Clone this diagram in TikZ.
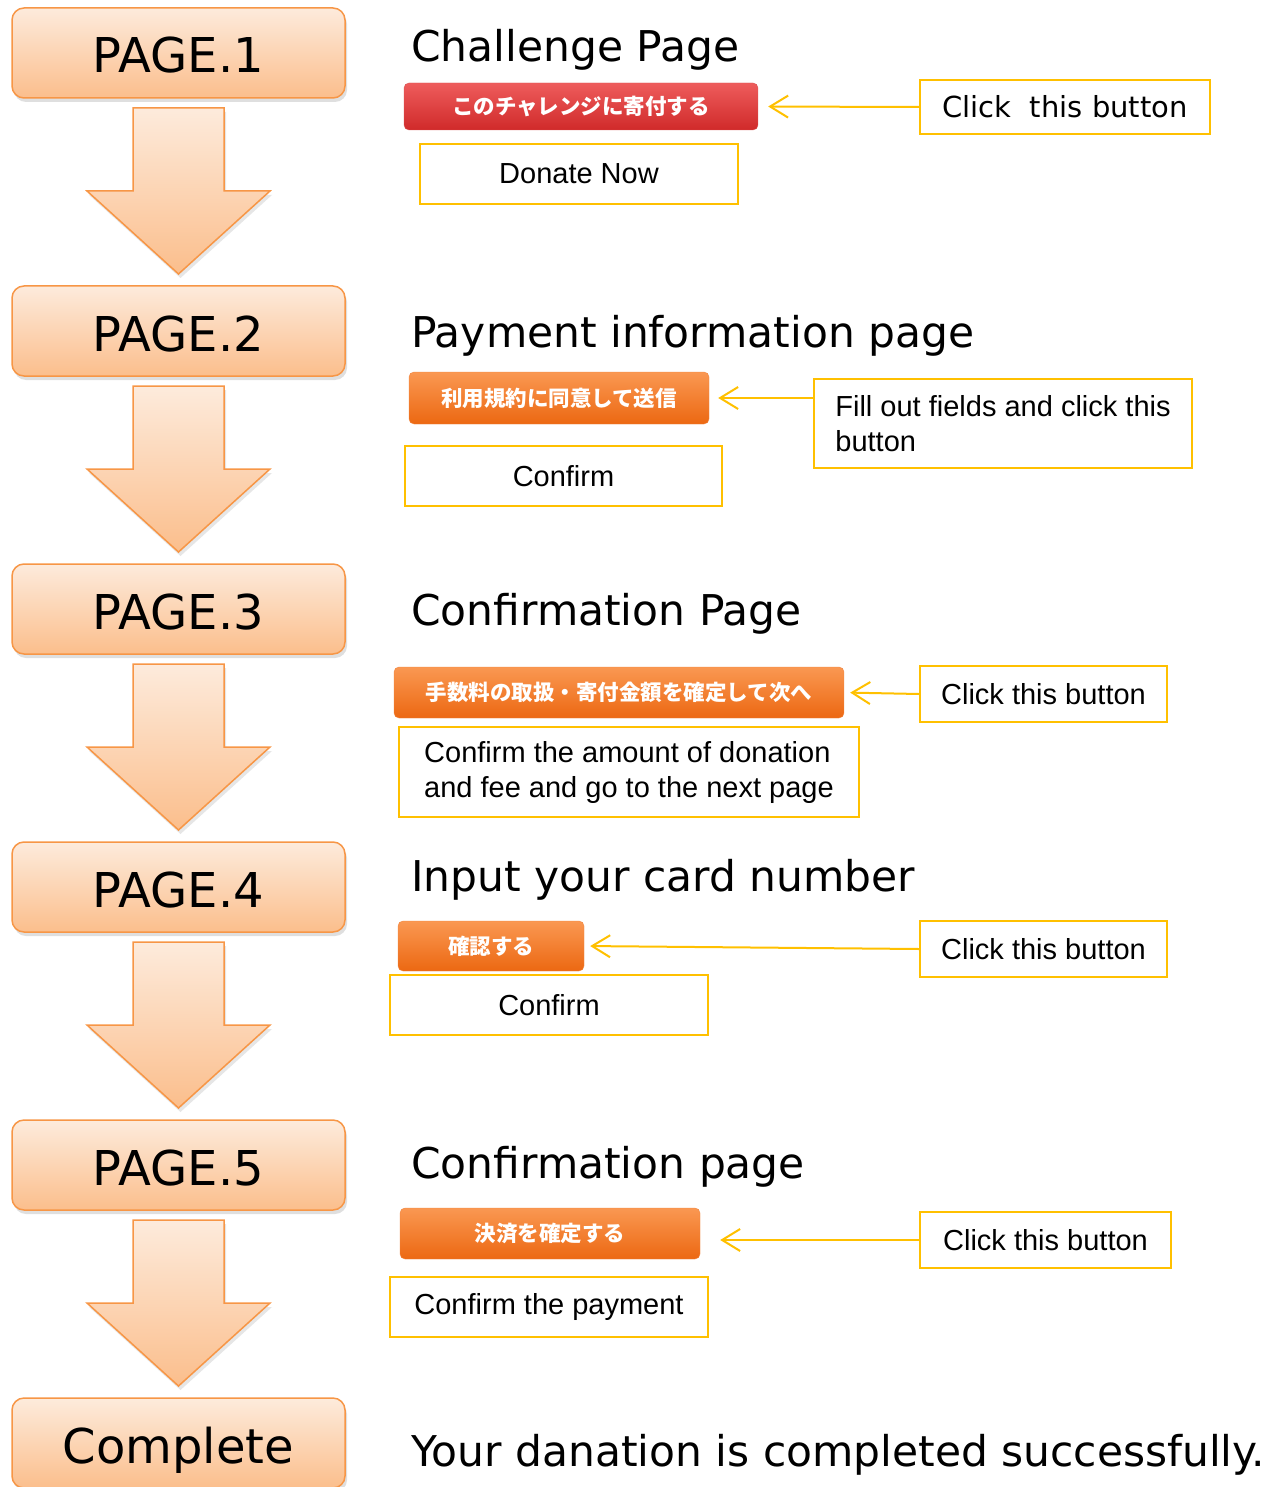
\documentclass[tikz,border=0pt]{standalone}
\usepackage{fontspec}
\setmainfont{DejaVu Sans}
\newfontfamily\arialfont{Liberation Sans}
\newfontfamily\jpfont{Noto Sans CJK JP}
\usetikzlibrary{arrows.meta,positioning,shadows,calc}
\definecolor{pageline}{RGB}{247,150,70}
\definecolor{pagetop}{RGB}{253,235,220}
\definecolor{pagebot}{RGB}{251,190,140}
\definecolor{hintline}{RGB}{255,192,0}
\definecolor{redtop}{RGB}{238,92,92}
\definecolor{redbot}{RGB}{208,42,42}
\definecolor{orgtop}{RGB}{250,152,82}
\definecolor{orgbot}{RGB}{236,104,18}

\begin{document}
\begin{tikzpicture}[x=1pt,y=-1pt,node distance=188pt,
  page/.style={draw=pageline,line width=1.5pt,rounded corners=12pt,
    top color=pagetop,bottom color=pagebot,inner sep=0pt,outer sep=0pt,
    minimum width=333pt,minimum height=90pt,text height=40pt,text depth=0pt,
    drop shadow={shadow xshift=2pt,shadow yshift=-4pt,opacity=0.25},
    font=\fontsize{48}{56}\selectfont},
  flow/.style={draw=pageline,line width=1.5pt,top color=pagetop,bottom color=pagebot,
    drop shadow={shadow xshift=2pt,shadow yshift=-4pt,opacity=0.2}},
  title/.style={anchor=base west,inner sep=0pt,font=\fontsize{42.4}{50}\selectfont},
  redbtn/.style={rounded corners=5pt,draw=redbot!80,top color=redtop,bottom color=redbot,
    inner sep=0pt,text=white,font=\jpfont\bfseries\fontsize{21.5}{24}\selectfont},
  orgbtn/.style={rounded corners=5pt,draw=orgbot!80,top color=orgtop,bottom color=orgbot,
    inner sep=0pt,text=white,font=\jpfont\bfseries\fontsize{21.5}{24}\selectfont},
  note/.style={draw=hintline,line width=2pt,inner sep=0pt,
    font=\arialfont\fontsize{29}{35}\selectfont},
  hint/.style={draw=hintline,line width=2pt,-{Straight Barb[length=18pt,width=22pt]}}]

\useasboundingbox (0,0) rectangle (1277,1487);

% left column
\node[page] (p1) at (178.5,53) {PAGE.1};
\node[page] (p2) [below=of p1] {PAGE.2};
\node[page] (p3) [below=of p2] {PAGE.3};
\node[page] (p4) [below=of p3] {PAGE.4};
\node[page] (p5) [below=of p4] {PAGE.5};
\node[page] (pc) [below=of p5] {Complete};

\foreach \a/\b in {p1/p2,p2/p3,p3/p4,p4/p5,p5/pc}
  \draw[flow] ($(\a.south)+(-45.5,10)$) -- ($(\a.south)+(45.5,10)$)
    -- ($(\b.north)+(45.5,-95)$) -- ($(\b.north)+(91.5,-95)$)
    -- ($(\b.north)+(0,-12)$) -- ($(\b.north)+(-91.5,-95)$)
    -- ($(\b.north)+(-45.5,-95)$) -- cycle;

% page 1
\node[title] (h1) at (411,61.5) {Challenge Page};
\node[redbtn,minimum width=354pt,minimum height=47pt] (b1) at (581,106.5) {このチャレンジに寄付する};
\node[note,minimum width=318pt,minimum height=60pt] (d1) at (579,174) {Donate Now};
\node[note,minimum width=290pt,minimum height=54pt,font=\fontsize{29}{35}\selectfont] (c1) at (1065,107) {Click~~this button};

% page 2
\node[title] (h2) at (411,347) {Payment information page};
\node[orgbtn,minimum width=300pt,minimum height=52pt] (b2) at (559,398) {利用規約に同意して送信};
\node[note,minimum width=378pt,minimum height=89pt,align=left] (c2) at (1003,423.5)
  {Fill out fields and click this\\button};
\node[note,minimum width=317pt,minimum height=60pt] (d2) at (563.5,476) {Confirm};

% page 3
\node[title] (h3) at (411,625) {Confirmation Page};
\node[orgbtn,minimum width=450pt,minimum height=51pt] (b3) at (619,692.5) {手数料の取扱・寄付金額を確定して次へ};
\node[note,minimum width=460pt,minimum height=90pt,align=left] (d3) at (629,772)
  {Confirm the amount of donation\\and fee and go to the next page};
\node[note,minimum width=247pt,minimum height=56pt] (c3) at (1043.5,694) {Click this button};

% page 4
\node[title] (h4) at (411,891) {Input your card number};
\node[orgbtn,minimum width=186pt,minimum height=50pt] (b4) at (491,946) {確認する};
\node[note,minimum width=318pt,minimum height=60pt] (d4) at (549,1005) {Confirm};
\node[note,minimum width=247pt,minimum height=56pt] (c4) at (1043.5,949) {Click this button};

% page 5
\node[title] (h5) at (411,1178) {Confirmation page};
\node[orgbtn,minimum width=300pt,minimum height=51pt] (b5) at (550,1233.5) {決済を確定する};
\node[note,minimum width=318pt,minimum height=60pt] (d5) at (549,1307) {Confirm the payment};
\node[note,minimum width=251pt,minimum height=56pt] (c5) at (1045.5,1240) {Click this button};

% complete
\node[title] (hf) at (411,1466) {Your danation is completed successfully.};

\draw[hint,shorten >=10pt] (c1.west) -- (b1.east);
\draw[hint,shorten >=9pt] (c2.west |- b2.east) -- (b2.east);
\draw[hint,shorten >=6pt] (c3.west) -- (b3.east);
\draw[hint,shorten >=6pt] (c4.west) -- (b4.east);
\draw[hint,shorten >=20pt] (c5.west) -- (c5.west -| b5.east);
\end{tikzpicture}
\end{document}
